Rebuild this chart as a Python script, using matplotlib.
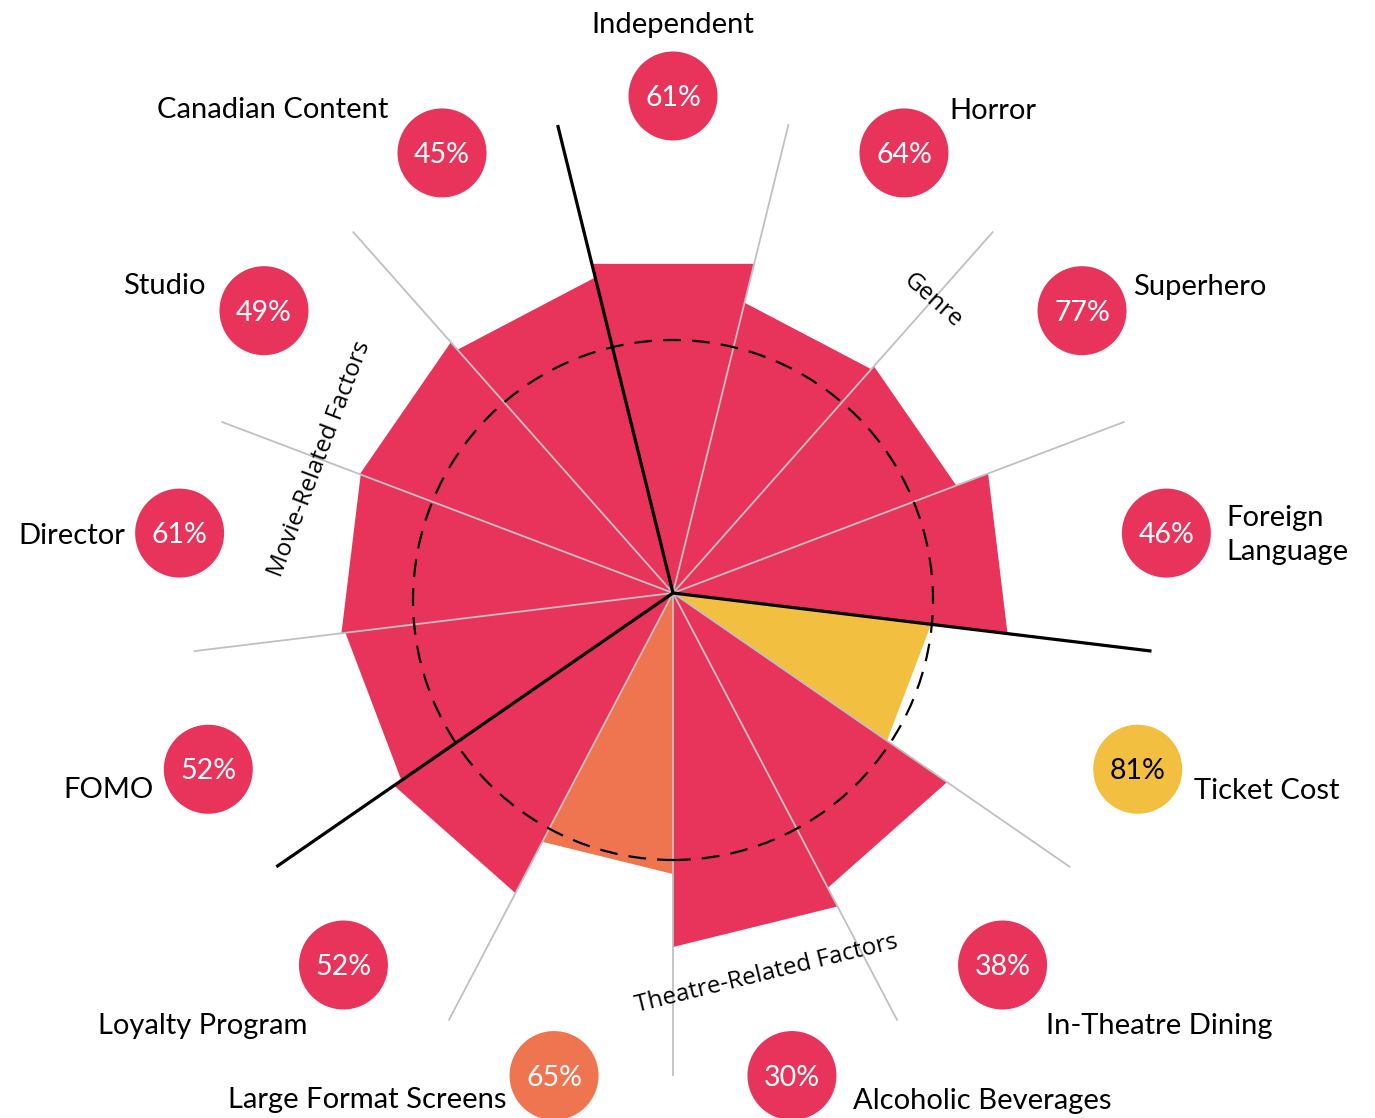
import numpy as np
import matplotlib
matplotlib.use("Agg")
import matplotlib.pyplot as plt
from matplotlib.patches import Polygon, Circle

# categories clockwise from the top
categories = ["Independent", "Horror", "Superhero", "Foreign\nLanguage", "Ticket Cost",
              "In-Theatre Dining", "Alcoholic Beverages", "Large Format Screens",
              "Loyalty Program", "FOMO", "Director", "Studio", "Canadian Content"]
percents = [61, 64, 77, 46, 81, 38, 30, 65, 52, 52, 61, 49, 45]
# wedge length (radial units)
reach = [339, 299, 303, 337, 260, 333, 354, 281, 339, 330, 334, 335, 325]
average_reach = 260

groups = ["Genre", "Theatre-Related Factors", "Movie-Related Factors"]
group_start = [0, 4, 9]   # index of first category in each group
group_size = [4, 5, 4]

RED = "#E8345B"
YELLOW = "#F2BF41"
ORANGE = "#EE7550"
colors = [RED] * 13
colors[4] = YELLOW
colors[7] = ORANGE
text_colors = ["white"] * 13
text_colors[4] = "black"

# label placement relative to its bubble (dx, dy in px, y down) and alignment
label_off = [(0, -71), (45, -42), (51, -24), (60, 2), (56, 22), (43, 61), (61, 25),
             (-48, 24), (-36, 61), (-55, 21), (-54, 3), (-58, -25), (-54, -43)]
label_ha = ["center", "left", "left", "left", "left", "left", "left",
            "right", "right", "right", "right", "right", "right"]

plt.rcParams["font.family"] = ["Lato", "DejaVu Sans"]

n = len(categories)
step = 2 * np.pi / n
half = step / 2


def pt(ang, r):
    # angle clockwise from north
    return r * np.sin(ang), r * np.cos(ang)


fig = plt.figure(figsize=(13.75, 11.18), dpi=100)
ax = fig.add_axes([0, 0, 1, 1])
ax.set_xlim(-673, 702)
ax.set_ylim(-525, 593)
ax.axis("off")

# wedges with straight outer edges
for i in range(n):
    a = i * step
    poly = Polygon([(0, 0), pt(a - half, reach[i]), pt(a + half, reach[i])],
                   closed=True, facecolor=colors[i], edgecolor="none", zorder=1)
    ax.add_patch(poly)

# spokes
line_len = 482
starts = set(group_start)
for i in range(n):
    a = i * step - half
    x, y = pt(a, line_len)
    if i in starts:
        ax.plot([0, x], [0, y], color="black", lw=2.3, zorder=4, solid_capstyle="butt")
    else:
        ax.plot([0, x], [0, y], color="#C0C0C0", lw=1.3, zorder=2)

# average ring
ring = Circle((0, -7), average_reach, fill=False, edgecolor="black", lw=1.6,
              linestyle=(0, (8, 5)), zorder=3)
ax.add_patch(ring)

# bubbles + labels
bubble_r = 497
for i in range(n):
    a = i * step
    cx, cy = pt(a, bubble_r)
    ax.add_patch(Circle((cx, cy), 44.5, facecolor=colors[i], edgecolor="none", zorder=5))
    ax.text(cx, cy - 2, f"{percents[i]}%", color=text_colors[i], fontsize=20.5,
            ha="center", va="center", zorder=6)
    dx, dy = label_off[i]
    ax.text(cx + dx, cy - dy, categories[i], fontsize=21, ha=label_ha[i], va="center",
            color="black", linespacing=1.4, zorder=6)

# group titles along the ring
group_r = [391, 392, 378]
for g, name in enumerate(groups):
    mid = (group_start[g] + (group_size[g] - 1) / 2) * step
    x, y = pt(mid, group_r[g])
    rot = -np.degrees(mid)
    rot = (rot + 180) % 360 - 180
    if rot < -90 or rot > 90:
        rot += 180
    ax.text(x, y, name, fontsize=17.5, family=["Open Sans", "DejaVu Sans"],
            rotation=rot, rotation_mode="anchor", ha="center", va="center", zorder=6)

fig.savefig("out.png", dpi=100)
